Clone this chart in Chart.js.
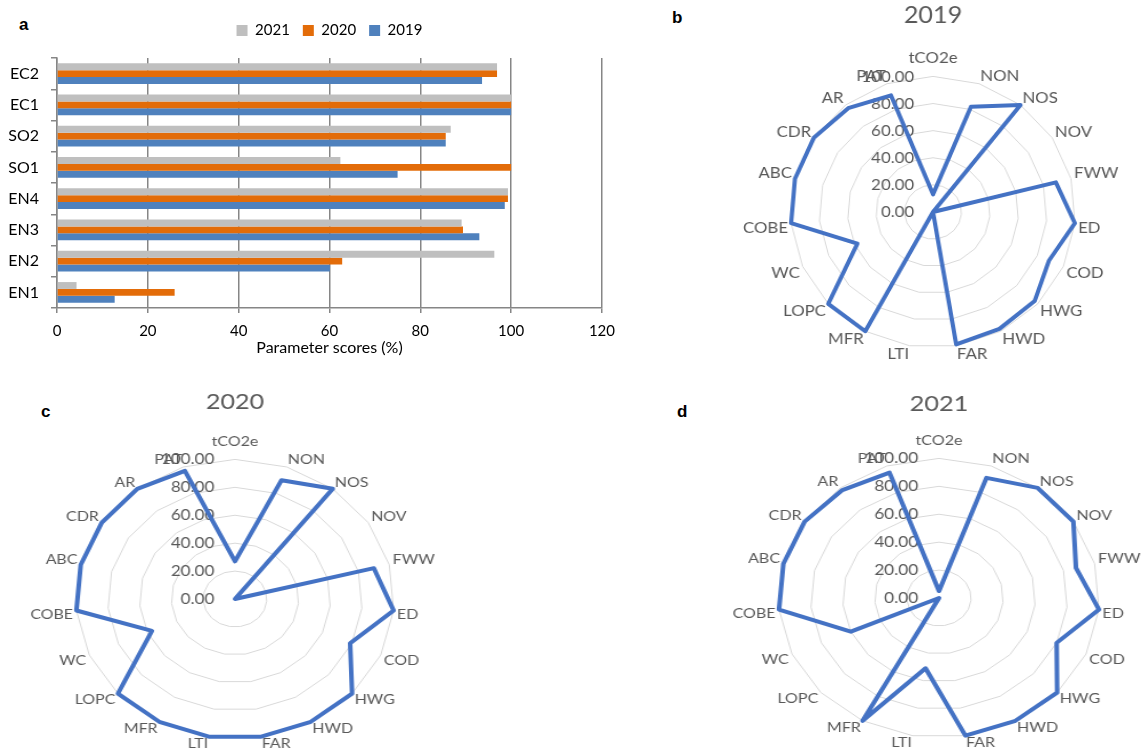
<!DOCTYPE html>
<html>
<head>
<meta charset="utf-8">
<title>Parameter scores 2019-2021</title>
<script src="https://cdn.jsdelivr.net/npm/chart.js@4.4.1/dist/chart.umd.min.js"></script>
<style>
  html, body { margin: 0; padding: 0; background: #fff; }
  body { position: relative; width: 1147px; height: 749px; overflow: hidden; }
  canvas { position: absolute; }
  .letter {
    position: absolute;
    font-family: "Liberation Sans", Arial, sans-serif;
    font-weight: bold;
    font-size: 17px;
    line-height: 17px;
    color: #000;
  }
</style>
</head>
<body>

<div class="letter" style="left:19px;top:16px">a</div>
<div class="letter" style="left:672px;top:9px">b</div>
<div class="letter" style="left:41px;top:403px">c</div>
<div class="letter" style="left:677px;top:403px">d</div>

<canvas id="bars" width="624" height="362" style="left:0;top:0"></canvas>
<canvas id="radar2019" width="440" height="380" style="left:713px;top:0;transform-origin:220px 0;transform:scaleX(1.05)"></canvas>
<canvas id="radar2020" width="440" height="420" style="left:15px;top:380px;transform-origin:220px 0;transform:scaleX(1.14)"></canvas>
<canvas id="radar2021" width="440" height="420" style="left:719px;top:380px;transform-origin:220px 0;transform:scaleX(1.15)"></canvas>

<script>
// ---- panel a: parameter scores per indicator ----
const barCategories = ['EC2', 'EC1', 'SO2', 'SO1', 'EN4', 'EN3', 'EN2', 'EN1'];
const bar2021 = [96.9, 100, 86.7, 62.4, 99.3, 89.1, 96.3, 4.3];
const bar2020 = [96.9, 100, 85.6, 100, 99.3, 89.4, 62.8, 25.9];
const bar2019 = [93.6, 100, 85.6, 75.0, 98.6, 93.0, 60.1, 12.7];
const barTicks = [0, 20, 40, 60, 80, 100, 120];

// ---- panels b-d: radar scores per parameter ----
const radarAxes = ['tCO2e', 'NON', 'NOS', 'NOV', 'FWW', 'ED', 'COD', 'HWG', 'HWD', 'FAR',
                   'LTI', 'MFR', 'LOPC', 'WC', 'COBE', 'ABC', 'CDR', 'AR', 'PAT'];
const scores2019 = [13, 82, 100, 0, 89, 100, 89, 97, 98, 99, 0, 100, 100, 58, 100, 100, 100, 97, 91];
const scores2020 = [27, 90, 100, 0, 90, 100, 79, 100, 100, 100, 100, 100, 100, 57, 100, 100, 100, 100, 97];
const scores2021 = [5, 91, 100, 100, 88, 100, 80, 100, 100, 100, 51, 100, 0, 60, 100, 100, 100, 98, 95];
const radarTicks = [0, 20, 40, 60, 80, 100];

Chart.defaults.font.family = 'Lato';

const axisGray = '#868686';

new Chart(document.getElementById('bars'), {
    type: 'bar',
    data: {
        labels: barCategories,
        datasets: [
            { label: '2021', data: bar2021, backgroundColor: '#BFBFBF' },
            { label: '2020', data: bar2020, backgroundColor: '#E36C09' },
            { label: '2019', data: bar2019, backgroundColor: '#4F81BD' }
        ]
    },
    options: {
        indexAxis: 'y',
        responsive: false,
        animation: false,
        layout: { padding: { top: 10, right: 10, left: 0, bottom: 0 } },
        datasets: { bar: { categoryPercentage: 0.66, barPercentage: 1 } },
        plugins: {
            legend: {
                position: 'top',
                fullSize: false,   // centre the legend over the plot, not the canvas
                labels: { boxWidth: 11, boxHeight: 11, padding: 13, color: '#000', font: { size: 15 } }
            },
            tooltip: { enabled: false }
        },
        scales: {
            x: {
                min: 0,
                max: 120,
                afterBuildTicks: s => { s.ticks = barTicks.map(v => ({ value: v })); },
                grid: { color: axisGray, lineWidth: 1.5, tickLength: 5 },
                border: { color: axisGray, width: 1.5 },
                ticks: { color: '#000', font: { size: 15 }, padding: 9, maxRotation: 0 },
                title: {
                    display: true,
                    text: 'Parameter scores (%)',
                    color: '#000',
                    font: { size: 16 },
                    padding: { top: 0, bottom: 5 }
                },
                afterFit: s => { s.height = 54; }
            },
            // empty spacer between legend and plot
            x2: {
                type: 'linear',
                position: 'top',
                grid: { display: false },
                border: { display: false },
                ticks: { display: false },
                afterFit: s => { s.height = 10; }
            },
            y: {
                grid: { drawOnChartArea: false, tickLength: 6, color: axisGray, lineWidth: 1.5, offset: true },
                border: { color: axisGray, width: 1.5 },
                ticks: { color: '#000', font: { size: 16 }, padding: 12 },
                afterFit: s => { s.width = 57; }
            }
        }
    }
});

// tick values drawn to the left of the vertical spoke, like the original
const radarTickText = {
    id: 'radarTickText',
    beforeDatasetsDraw(chart, args, opts) {
        const r = chart.scales.r;
        const ctx = chart.ctx;
        ctx.save();
        ctx.font = opts.size + 'px Lato';
        ctx.fillStyle = '#595959';
        ctx.textAlign = 'right';
        ctx.textBaseline = 'middle';
        radarTicks.forEach(v => {
            ctx.fillText(v.toFixed(2), r.xCenter - opts.offset, r.yCenter - r.getDistanceFromCenterForValue(v));
        });
        ctx.restore();
    }
};

function drawRadar(id, title, values, o) {
    new Chart(document.getElementById(id), {
        type: 'radar',
        data: {
            labels: radarAxes,
            datasets: [{
                label: title,
                data: values,
                borderColor: '#4472C4',
                borderWidth: 4,
                borderJoinStyle: 'round',
                fill: false,
                pointRadius: 0,
                pointHoverRadius: 0
            }]
        },
        options: {
            responsive: false,
            animation: false,
            layout: { padding: { top: 0, left: 0, right: 0, bottom: o.padBottom } },
            plugins: {
                legend: { display: false },
                tooltip: { enabled: false },
                title: {
                    display: true,
                    text: title,
                    color: '#595959',
                    font: { size: o.titleSize, weight: 'normal' },
                    padding: { top: o.titleTop, bottom: o.titleBottom }
                },
                radarTickText: { size: o.tickSize, offset: 18 }
            },
            scales: {
                r: {
                    min: 0,
                    max: 100,
                    afterBuildTicks: s => { s.ticks = radarTicks.map(v => ({ value: v })); },
                    ticks: { display: false },
                    angleLines: { display: false },
                    grid: { color: '#d9d9d9', lineWidth: 1 },
                    pointLabels: {
                        color: '#595959',
                        font: { size: o.labelSize, lineHeight: 0.6 },
                        padding: c => c.index === 0 ? 14 : 3
                    }
                }
            }
        },
        plugins: [radarTickText]
    });
}

drawRadar('radar2019', '2019', scores2019, { titleSize: 24, titleTop: 1, titleBottom: 16, padBottom: 14, labelSize: 16, tickSize: 16 });
drawRadar('radar2020', '2020', scores2020, { titleSize: 22, titleTop: 9, titleBottom: 15.6, padBottom: 45, labelSize: 14, tickSize: 15 });
drawRadar('radar2021', '2021', scores2021, { titleSize: 22, titleTop: 11, titleBottom: 12.6, padBottom: 46, labelSize: 14, tickSize: 15 });
</script>
</body>
</html>
